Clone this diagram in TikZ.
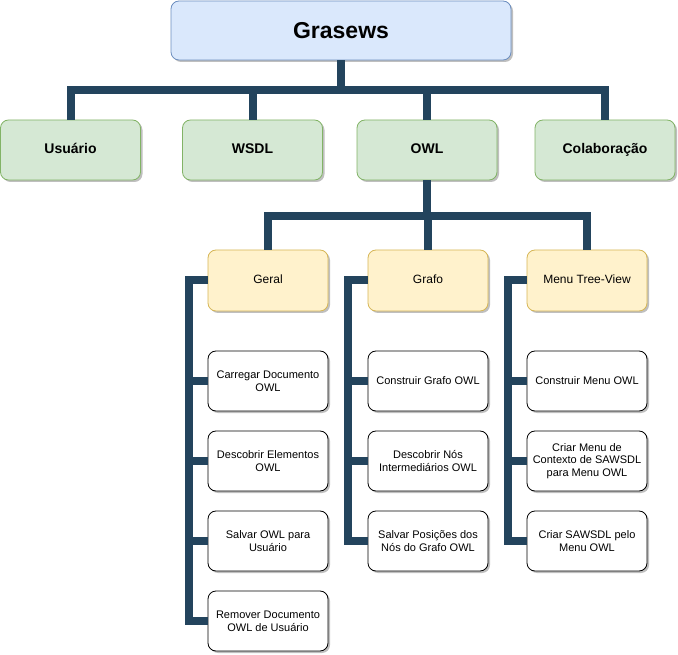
\documentclass[tikz,border=0pt]{standalone}
\usepackage{fontspec}
\setmainfont{Liberation Sans}
\usetikzlibrary{shadows}
\definecolor{rootfill}{HTML}{DAE8FC}
\definecolor{rootline}{HTML}{6C8EBF}
\definecolor{topicfill}{HTML}{D5E8D4}
\definecolor{topicline}{HTML}{82B366}
\definecolor{groupfill}{HTML}{FFF2CC}
\definecolor{groupline}{HTML}{D6B656}
\definecolor{linkcol}{HTML}{23445D}
\begin{document}
\begin{tikzpicture}[x=1pt,y=-1pt,
    box/.style={rounded corners=8pt,line width=0.8pt,align=center,inner sep=0pt,
        drop shadow={shadow xshift=2pt,shadow yshift=-2pt,opacity=0.25,fill=black}},
    root/.style={box,fill=rootfill,draw=rootline,minimum width=340pt,minimum height=59pt,
        font=\bfseries\fontsize{23}{27}\selectfont},
    topic/.style={box,fill=topicfill,draw=topicline,minimum width=140pt,minimum height=60pt,
        text height=10pt,text depth=3pt,font=\bfseries\fontsize{14}{16}\selectfont},
    group/.style={box,fill=groupfill,draw=groupline,minimum width=120pt,minimum height=61pt,
        text height=9pt,text depth=3pt,font=\fontsize{12}{14}\selectfont},
    leaf/.style={box,fill=white,draw=black,minimum width=120pt,minimum height=60pt,
        font=\fontsize{11}{12.65}\selectfont},
    link/.style={draw=linkcol,line width=8pt}]
        \useasboundingbox (0,0) rectangle (678,655);

        \node[root] (grasews) at (341,30.5) {Grasews};

        \node[topic] (usuario) at (70.5,150) {Usuário};
        \node[topic] (wsdl)    at (252.5,150) {WSDL};
        \node[topic] (owl)     at (427,150) {OWL};
        \node[topic] (colab)   at (605,150) {Colaboração};

        \node[group] (geral) at (268,280.5) {Geral};
        \node[group] (grafo) at (428,280.5) {Grafo};
        \node[group] (menu)  at (587,280.5) {Menu Tree-View};

        \node[leaf] (carregar)  at (268,381) {Carregar Documento\\OWL};
        \node[leaf] (descelem)  at (268,461) {Descobrir Elementos\\OWL};
        \node[leaf] (salvarowl) at (268,541) {Salvar OWL para\\Usuário};
        \node[leaf] (remover)   at (268,621) {Remover Documento\\OWL de Usuário};

        \node[leaf] (construirgrafo) at (428,381) {Construir Grafo OWL};
        \node[leaf] (descnos)        at (428,461) {Descobrir Nós\\Intermediários OWL};
        \node[leaf] (salvarpos)      at (428,541) {Salvar Posições dos\\Nós do Grafo OWL};

        \node[leaf] (construirmenu) at (587,381) {Construir Menu OWL};
        \node[leaf] (criarmenu)     at (587,461) {Criar Menu de\\Contexto de SAWSDL\\para Menu OWL};
        \node[leaf] (criarsawsdl)   at (587,541) {Criar SAWSDL pelo\\Menu OWL};

        \coordinate (barA)   at (341,90);
        \coordinate (barB)   at (427,216);
        \coordinate (spineA) at (189,280.5);
        \coordinate (spineB) at (348,280.5);
        \coordinate (spineC) at (508,280.5);

        \draw[link] (grasews.south) -- (barA) -| (usuario.north);
        \draw[link] (grasews.south) -- (barA) -| (wsdl.north);
        \draw[link] (grasews.south) -- (barA) -| (owl.north);
        \draw[link] (grasews.south) -- (barA) -| (colab.north);

        \draw[link] (owl.south) -- (barB) -| (geral.north);
        \draw[link] (owl.south) -- (barB) -| (grafo.north);
        \draw[link] (owl.south) -- (barB) -| (menu.north);

        \draw[link] (geral.west) -- (spineA) |- (carregar.west);
        \draw[link] (geral.west) -- (spineA) |- (descelem.west);
        \draw[link] (geral.west) -- (spineA) |- (salvarowl.west);
        \draw[link] (geral.west) -- (spineA) |- (remover.west);

        \draw[link] (grafo.west) -- (spineB) |- (construirgrafo.west);
        \draw[link] (grafo.west) -- (spineB) |- (descnos.west);
        \draw[link] (grafo.west) -- (spineB) |- (salvarpos.west);

        \draw[link] (menu.west) -- (spineC) |- (construirmenu.west);
        \draw[link] (menu.west) -- (spineC) |- (criarmenu.west);
        \draw[link] (menu.west) -- (spineC) |- (criarsawsdl.west);
\end{tikzpicture}
\end{document}
